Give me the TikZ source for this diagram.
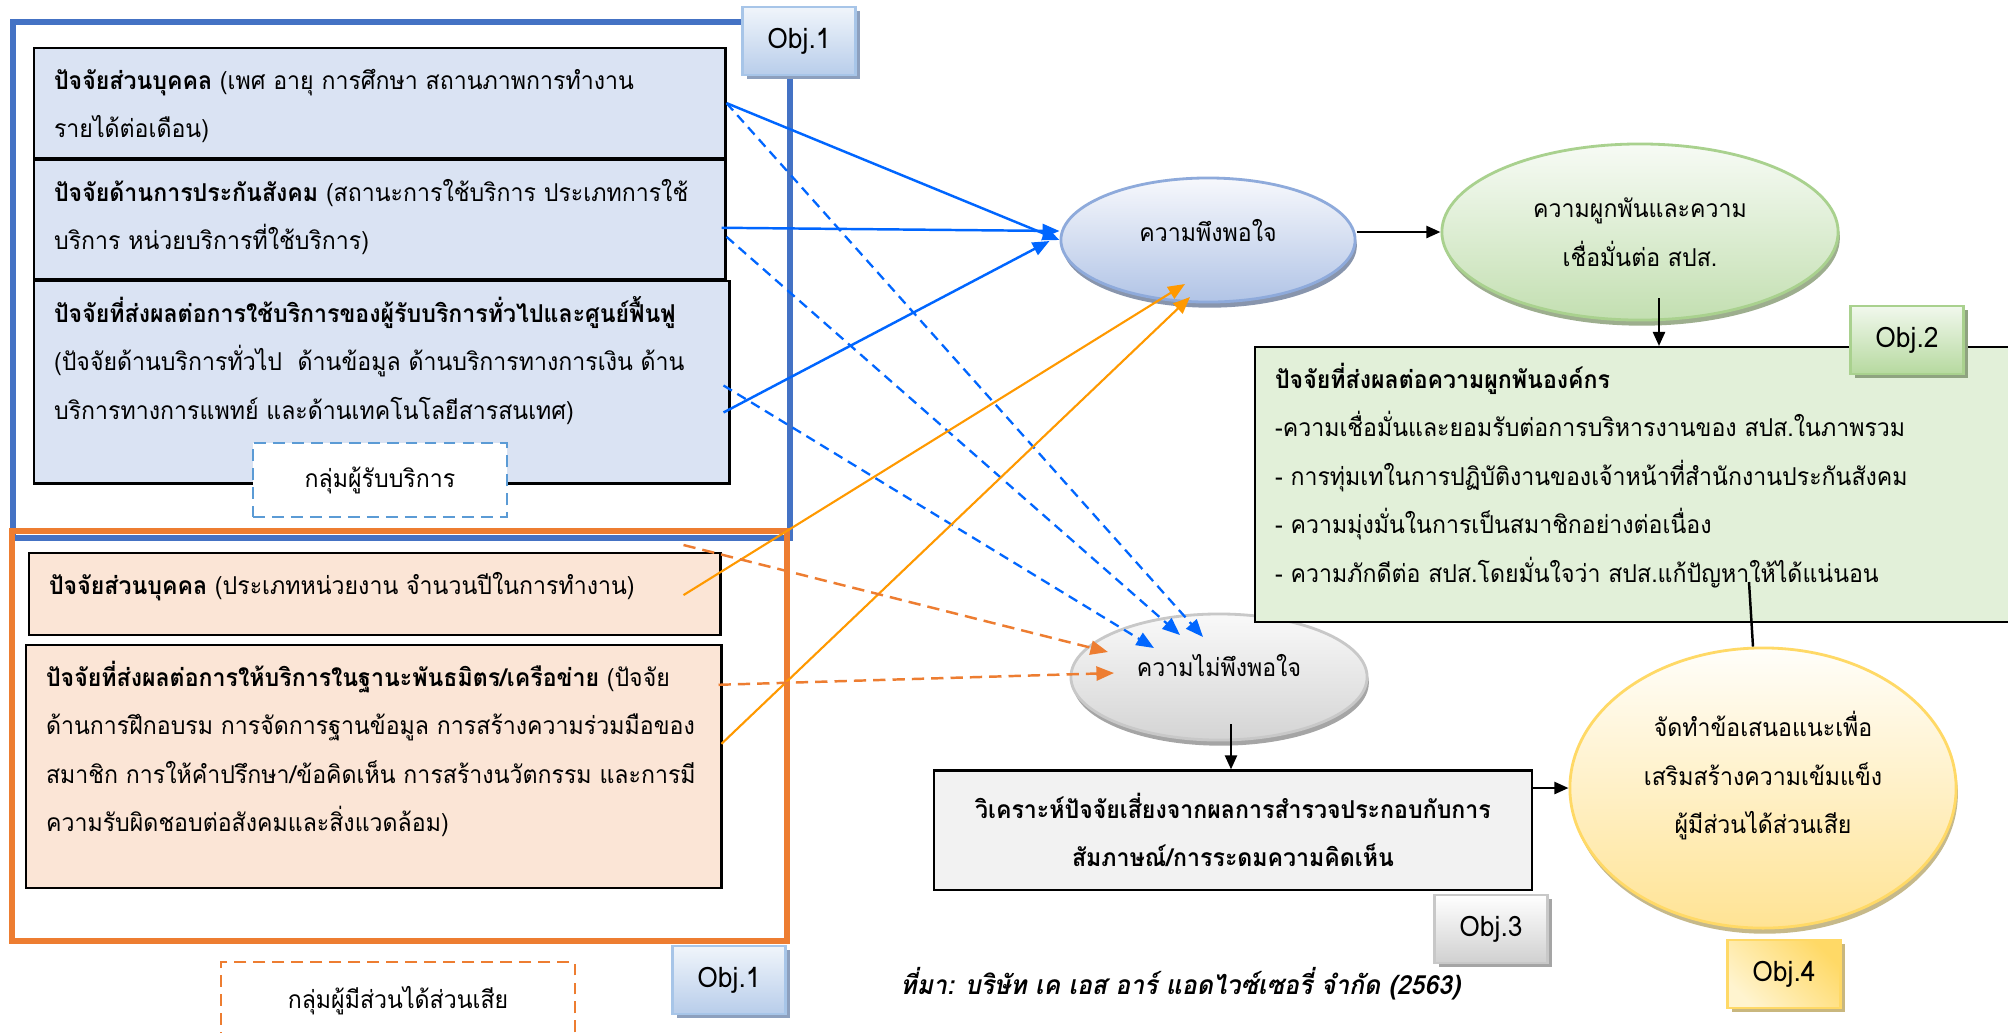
\documentclass[tikz,border=0pt]{standalone}
\usepackage{fontspec}
\setmainfont[Script=Thai,FakeStretch=0.94]{Loma}
\newfontfamily\capfont[Script=Thai,FakeSlant=0.2,FakeStretch=0.94]{Loma}
\usetikzlibrary{shapes.geometric, arrows.meta, positioning, calc, shadows}
\definecolor{frameblue}{HTML}{4472C4}
\definecolor{frameorange}{HTML}{ED7D31}
\definecolor{linkblue}{HTML}{0066FF}
\definecolor{linkorange}{HTML}{FF9900}
\definecolor{dashblue}{HTML}{5B9BD5}
\definecolor{custbg}{HTML}{DAE3F3}
\definecolor{partbg}{HTML}{FBE5D6}
\definecolor{engbg}{HTML}{E2F0D9}
\definecolor{riskbg}{HTML}{F2F2F2}
\definecolor{sattop}{HTML}{F7F8FC}
\definecolor{satbot}{HTML}{B1C4E6}
\definecolor{satline}{HTML}{8EAADB}
\definecolor{satshade}{HTML}{8895AD}
\definecolor{bondtop}{HTML}{F7FBF5}
\definecolor{bondbot}{HTML}{C3DFB1}
\definecolor{bondline}{HTML}{A9D18E}
\definecolor{bondshade}{HTML}{9DAE8E}
\definecolor{distop}{HTML}{F9F9F9}
\definecolor{disbot}{HTML}{D4D4D4}
\definecolor{disline}{HTML}{C8C8C8}
\definecolor{disshade}{HTML}{A5A5A5}
\definecolor{plantop}{HTML}{FFFEFA}
\definecolor{planbot}{HTML}{FFE394}
\definecolor{planline}{HTML}{FFD966}
\definecolor{planshade}{HTML}{C6B98A}
\definecolor{objbluetop}{HTML}{F0F5FB}
\definecolor{objbluebot}{HTML}{B8CDEA}
\definecolor{objblueline}{HTML}{A7C5E8}
\definecolor{objblueshade}{HTML}{8DA0BE}
\definecolor{objgreentop}{HTML}{F1F8ED}
\definecolor{objgreenbot}{HTML}{B6D99F}
\definecolor{objgreenshade}{HTML}{8FA380}
\definecolor{objgraybot}{HTML}{D0D0D0}
\definecolor{objyellowtop}{HTML}{FFF4CF}
\definecolor{objyellowbot}{HTML}{FFD966}
\definecolor{objyellowshade}{HTML}{C9B77E}
\newcommand{\txtsize}{\fontsize{7}{13.8}\selectfont}
\newcommand{\boxtext}[3]{\parbox[c][#1][t]{#2}{\txtsize\raggedright\rule{0pt}{0.41cm}#3}}

\begin{document}
\begin{tikzpicture}[
        x=0.01cm, y=-0.01cm,
        font=\txtsize,
        factor/.style={
            draw=black,
            line width=0.6pt,
            inner xsep=0.2cm,
            inner ysep=0pt,
            anchor=north west
        },
        grouptag/.style={
            draw,
            dash pattern=on 3.4pt off 2pt,
            line width=0.6pt,
            fill=white,
            minimum width=2.54cm,
            minimum height=0.74cm
        },
        objtag/.style={
            rectangle,
            line width=0.8pt,
            minimum width=1.13cm,
            minimum height=0.68cm,
            font=\fontsize{8}{9}\selectfont,
            drop shadow={shadow xshift=1.2pt, shadow yshift=-1.2pt, fill=#1, opacity=1}
        },
        oval/.style={
            ellipse,
            line width=0.8pt,
            inner sep=0pt,
            align=center,
            drop shadow={shadow xshift=0.5pt, shadow yshift=-1.6pt, fill=#1, opacity=1}
        },
        solid arrow/.style={
            -{Triangle[length=4.8pt,width=3.9pt]},
            line width=0.7pt
        },
        dash arrow/.style={
            -{Triangle[length=5pt,width=4pt]},
            line width=0.65pt,
            dash pattern=on 2.8pt off 1.8pt
        },
        flow/.style={
            -{Triangle[length=4pt,width=3.4pt]},
            draw=black,
            line width=0.7pt
        }
    ]
    \path[use as bounding box, fill=white] (0,0) rectangle (2008,1032);

    % Service users
    \draw[frameblue, line width=1.5pt] (13,22) rectangle (790,538);
    \node[factor, fill=custbg] (cust1) at (33,47) {\boxtext{1.10cm}{6.51cm}{\textbf{ปัจจัยส่วนบุคคล} (เพศ อายุ การศึกษา สถานภาพการทำงาน\\รายได้ต่อเดือน)}};
    \node[factor, fill=custbg] (cust2) at (cust1.south west) {\boxtext{1.19cm}{6.51cm}{\textbf{ปัจจัยด้านการประกันสังคม} (สถานะการใช้บริการ ประเภทการใช้\\บริการ หน่วยบริการที่ใช้บริการ)}};
    \node[factor, fill=custbg] (cust3) at (cust2.south west) {\boxtext{2.02cm}{6.55cm}{\textbf{ปัจจัยที่ส่งผลต่อการใช้บริการของผู้รับบริการทั่วไปและศูนย์ฟื้นฟู}\\(ปัจจัยด้านบริการทั่วไป\ \ ด้านข้อมูล ด้านบริการทางการเงิน ด้าน\\บริการทางการแพทย์ และด้านเทคโนโลยีสารสนเทศ)}};
    \node[grouptag, draw=dashblue] (custgrp) at (380,480) {กลุ่มผู้รับบริการ};

    % Stakeholders
    \draw[frameorange, line width=1.5pt] (12,531) rectangle (787,941);
    \node[factor, fill=partbg] (part1) at (28,552) {\boxtext{0.82cm}{6.51cm}{\textbf{ปัจจัยส่วนบุคคล} (ประเภทหน่วยงาน จำนวนปีในการทำงาน)}};
    \node[factor, fill=partbg] (part2) at ($(part1.south west)+(-3,8)$) {\boxtext{2.43cm}{6.55cm}{\textbf{ปัจจัยที่ส่งผลต่อการให้บริการในฐานะพันธมิตร/เครือข่าย} (ปัจจัย\\ด้านการฝึกอบรม การจัดการฐานข้อมูล การสร้างความร่วมมือของ\\สมาชิก การให้คำปรึกษา/ข้อคิดเห็น การสร้างนวัตกรรม และการมี\\ความรับผิดชอบต่อสังคมและสิ่งแวดล้อม)}};
    \node[grouptag, draw=frameorange, minimum width=3.53cm, minimum height=0.78cm] (partgrp) at (398,1001) {กลุ่มผู้มีส่วนได้ส่วนเสีย};

    \node[objtag=objblueshade, draw=objblueline, top color=objbluetop, bottom color=objbluebot] (obj1a) at (799,41) {Obj.1};
    \node[objtag=objblueshade, draw=objblueline, top color=objbluetop, bottom color=objbluebot] (obj1b) at (729,980) {Obj.1};

    % Outcomes
    \node[oval=satshade, draw=satline, top color=sattop, bottom color=satbot, minimum width=2.94cm, minimum height=1.24cm] (sat) at (1208,240) {ความพึงพอใจ\\[-8.6pt]\mbox{}};
    \node[oval=bondshade, draw=bondline, top color=bondtop, bottom color=bondbot, minimum width=3.96cm, minimum height=1.76cm] (bond) at (1640,232) {ความผูกพันและความ\\เชื่อมั่นต่อ สปส.};
    \node[oval=disshade, draw=disline, top color=distop, bottom color=disbot, minimum width=2.96cm, minimum height=1.26cm] (dissat) at (1219,677) {ความไม่พึงพอใจ\\[-7pt]\mbox{}};

    \node[factor, fill=engbg] (engage) at (1254,346) {\boxtext{2.75cm}{7.5cm}{\textbf{ปัจจัยที่ส่งผลต่อความผูกพันองค์กร}\\-ความเชื่อมั่นและยอมรับต่อการบริหารงานของ สปส.ในภาพรวม\\- การทุ่มเทในการปฏิบัติงานของเจ้าหน้าที่สำนักงานประกันสังคม\\- ความมุ่งมั่นในการเป็นสมาชิกอย่างต่อเนื่อง\\- ความภักดีต่อ สปส.โดยมั่นใจว่า สปส.แก้ปัญหาให้ได้แน่นอน}};
    \node[objtag=objgreenshade, draw=bondline, top color=objgreentop, bottom color=objgreenbot] (obj2) at (1907,340) {Obj.2};

    \node[draw=black, line width=0.6pt, fill=riskbg, minimum width=5.97cm, minimum height=1.19cm, align=center, font=\bfseries\txtsize] (risk) at (1233,830) {วิเคราะห์ปัจจัยเสี่ยงจากผลการสำรวจประกอบกับการ\\สัมภาษณ์/การระดมความคิดเห็น};
    \node[objtag=disshade, draw=disline, top color=white, bottom color=objgraybot] (obj3) at (1491,929) {Obj.3};

    \node[oval=planshade, draw=planline, top color=plantop, bottom color=planbot, minimum width=3.86cm, minimum height=2.80cm] (plan) at (1763,788) {จัดทำข้อเสนอแนะเพื่อ\\เสริมสร้างความเข้มแข็ง\\ผู้มีส่วนได้ส่วนเสีย\\[-5pt]\mbox{}};
    \node[objtag=objyellowshade, draw=planline, left color=objyellowtop, right color=objyellowbot, shading angle=135] (obj4) at (1784,974) {Obj.4};

    \node[anchor=base west, font=\capfont\bfseries\fontsize{7.5}{9}\selectfont] (source) at (888,994) {ที่มา: บริษัท เค เอส อาร์ แอดไวซ์เซอรี่ จำกัด (2563)};

    % Service users to outcomes
    \draw[solid arrow, linkblue] (cust1.east) -- (sat.west);
    \draw[solid arrow, linkblue] ($(cust2.east)+(-5,8)$) -- ($(sat.west)+(0,-9)$);
    \draw[solid arrow, linkblue] ($(cust3.east)+(-7,30)$) -- ($(sat.west)+(-10,1)$);
    \draw[dash arrow, linkblue] (cust1.east) -- ($(dissat.center)+(-16,-40)$);
    \draw[dash arrow, linkblue] ($(cust2.east)+(0,17)$) -- ($(dissat.center)+(-39,-42)$);
    \draw[dash arrow, linkblue] ($(cust3.east)+(-7,3)$) -- ($(dissat.center)+(-65,-29)$);

    % Stakeholders to outcomes
    \draw[solid arrow, linkorange, line width=0.6pt] ($(part1.east)+(-38,1)$) -- ($(sat.center)+(-23,44)$);
    \draw[solid arrow, linkorange, line width=0.6pt] ($(part2.east)+(-1,-23)$) -- ($(sat.center)+(-18,57)$);
    \draw[dash arrow, frameorange, line width=0.7pt, dash pattern=on 3.5pt off 2pt] ($(part1.north east)+(-38,-7)$) -- ($(dissat.center)+(-111,-25)$);
    \draw[dash arrow, frameorange, line width=0.7pt, dash pattern=on 3.5pt off 2pt] ($(part2.east)+(-4,-82)$) -- ($(dissat.center)+(-105,-4)$);

    % Flow
    \coordinate (bfoot) at ($(bond.center)+(19,66)$);
    \coordinate (gfoot) at ($(engage.north west)+(495,236)$);
    \coordinate (dfoot) at ($(dissat.center)+(12,47)$);
    \draw[flow] (sat.east |- bond.west) -- (bond.west);
    \draw[flow] (bfoot) -- (bfoot |- engage.north);
    \draw[line width=0.7pt] (gfoot) -- ($(plan.north)+(-10,0)$);
    \draw[flow] (dfoot) -- (dfoot |- risk.north);
    \draw[flow] (risk.east |- plan.west) -- (plan.west);

\end{tikzpicture}
\end{document}
